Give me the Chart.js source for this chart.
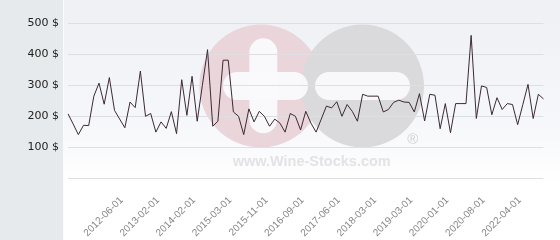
<!DOCTYPE html>
<html>
<head>
<meta charset="utf-8">
<script src="https://cdn.jsdelivr.net/npm/chart.js@4/dist/chart.umd.min.js"></script>
<style>
  html, body { margin: 0; padding: 0; }
  body { width: 560px; height: 240px; position: relative; overflow: hidden;
         background: linear-gradient(to bottom, #eef0f4 0px, #f6f7fa 120px, #ffffff 185px, #ffffff 240px); }
  #panel { position: absolute; left: 0; top: 0; width: 63px; height: 240px; background: #e7eaed; border-right: 1px solid #fbfbfc; }
  #wrap { position: absolute; left: 0; top: 0; width: 560px; height: 240px; }
</style>
</head>
<body>
<div id="panel"></div>
<div id="wrap"><canvas id="c" width="560" height="240"></canvas></div>
<script>
// ---- data ----
const values = [
  208, 175, 141, 171, 170, 265, 307, 239, 325, 219,
  191, 163, 246, 228, 346, 200, 209, 149, 182, 161,
  215, 144, 318, 203, 329, 184, 300, 415, 168, 184,
  381, 381, 214, 200, 141, 224, 182, 216, 200, 168,
  191, 178, 149, 209, 200, 156, 216, 178, 149, 191,
  233, 227, 247, 200, 238, 216, 184, 271, 265, 265,
  265, 214, 222, 245, 252, 246, 245, 214, 273, 185,
  271, 268, 160, 241, 147, 241, 241, 241, 461, 193,
  298, 293, 205, 260, 222, 241, 238, 173, 238, 303,
  193, 271, 256
];
const tickLabels = ['2012-06-01', '2013-02-01', '2014-02-01', '2015-03-01', '2015-11-01', '2016-09-01',
                    '2017-06-01', '2018-03-01', '2019-03-01', '2020-01-01', '2020-08-01', '2022-04-01'];
const tickIndex = [10, 17, 24, 31, 38, 45, 52, 59, 66, 73, 80, 87];
const yTicks = [0, 100, 200, 300, 400, 500];

const categories = values.map((_, i) => {
  const k = tickIndex.indexOf(i);
  return k >= 0 ? tickLabels[k] : '';
});

function rr(ctx, x, y, w, h, r) {
  ctx.beginPath();
  ctx.moveTo(x + r, y);
  ctx.lineTo(x + w - r, y);
  ctx.arc(x + w - r, y + r, r, -Math.PI / 2, 0);
  ctx.lineTo(x + w, y + h - r);
  ctx.arc(x + w - r, y + h - r, r, 0, Math.PI / 2);
  ctx.lineTo(x + r, y + h);
  ctx.arc(x + r, y + h - r, r, Math.PI / 2, Math.PI);
  ctx.lineTo(x, y + r);
  ctx.arc(x + r, y + r, r, Math.PI, Math.PI * 1.5);
  ctx.closePath();
}

const watermark = {
  id: 'watermark',
  beforeDraw(chart) {
    const ctx = chart.ctx;
    ctx.save();
    ctx.fillStyle = '#ead5da';
    ctx.beginPath(); ctx.arc(260.8, 86, 61.5, 0, Math.PI * 2); ctx.fill();
    ctx.fillStyle = '#dadadc';
    ctx.beginPath(); ctx.arc(362.5, 86, 61.5, 0, Math.PI * 2); ctx.fill();
    ctx.fillStyle = 'rgba(250,250,252,0.95)';
    rr(ctx, 249.3, 38.3, 28, 95, 14); ctx.fill();
    rr(ctx, 223, 72, 85, 28, 14); ctx.fill();
    rr(ctx, 315, 72, 95, 28, 14); ctx.fill();
    ctx.font = 'bold 14.5px "Liberation Sans", Arial, sans-serif';
    ctx.textAlign = 'center';
    ctx.textBaseline = 'middle';
    ctx.fillStyle = '#e3e3e6';
    ctx.fillText('www.Wine-Stocks.com', 311.7, 162);
    ctx.font = '15px "Liberation Sans", Arial, sans-serif';
    ctx.fillStyle = '#d2d2d4';
    ctx.fillText('\u00AE', 412.7, 139.5);
    ctx.restore();
  }
};

new Chart(document.getElementById('c'), {
  type: 'line',
  data: {
    labels: categories,
    datasets: [{
      data: values,
      borderColor: '#3b2a33',
      borderWidth: 1,
      pointRadius: 0,
      tension: 0,
      fill: false
    }]
  },
  options: {
    responsive: false,
    animation: false,
    devicePixelRatio: 1,
    layout: { padding: { top: 23.3, right: 5, left: 0, bottom: 0 } },
    plugins: { legend: { display: false }, tooltip: { enabled: false } },
    scales: {
      x: {
        grid: { display: false },
        border: { display: false },
        ticks: {
          autoSkip: false,
          minRotation: 45,
          maxRotation: 45,
          padding: 8,
          labelOffset: 2,
          color: '#858585',
          font: { family: '"Liberation Sans", Arial, sans-serif', size: 10 },
          callback: (v, i) => categories[i]
        },
        afterFit: (s) => { s.height = 61.7; }
      },
      y: {
        min: yTicks[0],
        max: yTicks[yTicks.length - 1],
        afterBuildTicks: (s) => { s.ticks = yTicks.map(v => ({ value: v })); },
        grid: { color: '#dedfe2', drawTicks: false, lineWidth: 1 },
        border: { display: false },
        ticks: {
          padding: 9,
          color: '#222',
          font: { family: '"DejaVu Sans", sans-serif', size: 11 },
          callback: (v) => v === 0 ? '' : v + ' $'
        },
        afterFit: (s) => { s.width = 68; }
      }
    }
  },
  plugins: [watermark]
});
</script>
</body>
</html>
